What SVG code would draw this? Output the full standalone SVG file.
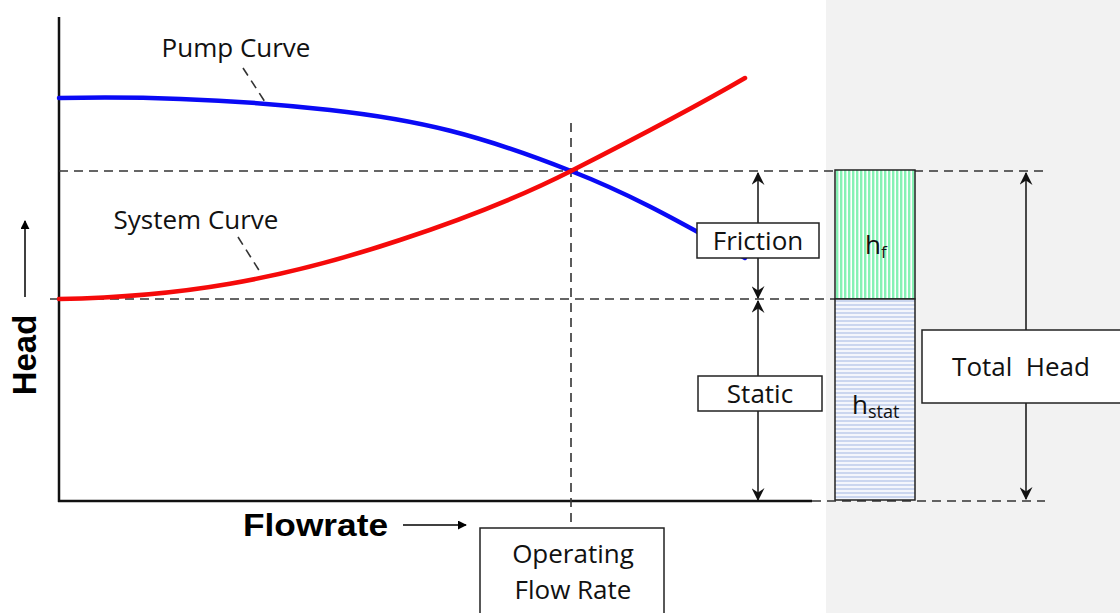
<svg xmlns="http://www.w3.org/2000/svg" width="1120" height="613" viewBox="0 0 1120 613">
<style>
.lbl{font-family:"Open Sans","Liberation Sans",sans-serif;font-size:26px;fill:#111}
.ax{font-family:"Liberation Sans",Arial,sans-serif;font-weight:bold;fill:#000}
.dash{stroke:#333;stroke-width:1.6;stroke-dasharray:9,6;fill:none}
.box{fill:#fff;stroke:#222;stroke-width:1.5}
.dim{stroke:#111;stroke-width:1.5;fill:none;marker-start:url(#ah);marker-end:url(#ah)}
</style>
<defs>
<marker id="ah" viewBox="0 0 12 12" refX="11" refY="6" markerWidth="13" markerHeight="13" markerUnits="userSpaceOnUse" orient="auto-start-reverse">
<path d="M0,0 L12,6 L0,12 L4,6 Z" fill="#111"/>
</marker>
<marker id="sa" viewBox="0 0 10 10" refX="9" refY="5" markerWidth="9" markerHeight="9" markerUnits="userSpaceOnUse" orient="auto">
<path d="M0,0 L10,5 L0,10 Z" fill="#000"/>
</marker>
<pattern id="pg" width="4" height="4" patternUnits="userSpaceOnUse">
<rect width="4" height="4" fill="#ffffff"/><rect width="2.4" height="4" fill="#86f2b4"/>
</pattern>
<pattern id="pb" width="4" height="4" patternUnits="userSpaceOnUse">
<rect width="4" height="4" fill="#f4f6fc"/><rect width="4" height="2" fill="#cbd6ef"/>
</pattern>
</defs>
<rect x="826" y="0" width="294" height="613" fill="#f2f2f2"/>
<g id="axes">
<line x1="59" y1="17" x2="59" y2="502" stroke="#111" stroke-width="2.5"/>
<line x1="58" y1="501" x2="812" y2="501" stroke="#111" stroke-width="2.5"/>
</g>
<g id="guides">
<line class="dash" x1="59" y1="171" x2="1045" y2="171"/>
<line class="dash" x1="50" y1="299" x2="835" y2="299"/>
<line class="dash" x1="812" y1="501" x2="1045" y2="501"/>
<line class="dash" x1="571" y1="123" x2="571" y2="528"/>
</g>
<g id="curves">
<path id="pump" d="M59,98 C150,96 250,101 330,110 C420,120 480,135 571,171 C640,198 690,228 745,258" fill="none" stroke="#0a0af5" stroke-width="4.5" stroke-linecap="round"/>
<path id="system" d="M59,299 C180,297 280,280 400,240 C470,217 520,197 571,171 C630,141 690,110 745,78" fill="none" stroke="#f50a0a" stroke-width="4.5" stroke-linecap="round"/>
</g>
<g id="connectors">
<line class="dash" x1="243" y1="68" x2="267" y2="105" stroke-dasharray="7,5"/>
<line class="dash" x1="238" y1="237" x2="262" y2="275" stroke-dasharray="7,5"/>
<line class="dim" x1="758" y1="173" x2="758" y2="298"/>
<line class="dim" x1="758" y1="301" x2="758" y2="500"/>
<line class="dim" x1="1026" y1="173" x2="1026" y2="499"/>
<line x1="25" y1="297" x2="25" y2="221" stroke="#000" stroke-width="1.5" marker-end="url(#sa)"/>
<line x1="403" y1="525" x2="466" y2="525" stroke="#000" stroke-width="1.5" marker-end="url(#sa)"/>
</g>
<g id="pump-label"><text class="lbl" x="236" y="57" text-anchor="middle">Pump Curve</text></g>
<g id="system-label"><text class="lbl" x="196" y="229" text-anchor="middle">System Curve</text></g>
<g id="friction"><rect class="box" x="697" y="223" width="122" height="35"/><text class="lbl" x="758" y="250" text-anchor="middle">Friction</text></g>
<g id="static"><rect class="box" x="698" y="376" width="124" height="35"/><text class="lbl" x="760" y="403" text-anchor="middle">Static</text></g>
<g id="bar">
<rect x="835" y="170" width="80" height="129" fill="url(#pg)" stroke="#222" stroke-width="1.5"/>
<rect x="835" y="299" width="80" height="201" fill="url(#pb)" stroke="#222" stroke-width="1.5"/>
<text class="lbl" x="865" y="254">h<tspan font-size="17" dy="4">f</tspan></text>
<text class="lbl" x="852" y="414">h<tspan font-size="18" dy="4">stat</tspan></text>
</g>
<g id="total-head"><rect class="box" x="922" y="330" width="210" height="73"/><text class="lbl" x="1021" y="376" font-size="27" text-anchor="middle" xml:space="preserve">Total  Head</text></g>
<g id="head-label"><text class="ax" font-size="33" transform="translate(36,355) rotate(-90)" text-anchor="middle">Head</text></g>
<g id="flowrate-label"><text class="ax" font-size="31" x="243" y="536" textLength="145" lengthAdjust="spacingAndGlyphs">Flowrate</text></g>
<g id="operating"><rect class="box" x="480" y="528" width="184" height="90"/>
<text class="lbl" x="573" y="563" font-size="27" text-anchor="middle">Operating</text>
<text class="lbl" x="573" y="599" font-size="27" text-anchor="middle">Flow Rate</text></g>
</svg>
